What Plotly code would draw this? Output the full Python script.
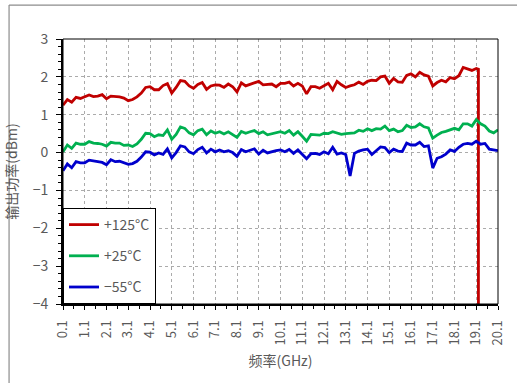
import numpy as np
import plotly.graph_objects as go

freq = [round(0.1 + 0.2 * i, 1) for i in range(101)]

red_vals = [1.25, 1.40, 1.33, 1.46, 1.43, 1.47, 1.52, 1.48, 1.49, 1.53,
            1.42, 1.49, 1.48, 1.47, 1.44, 1.37, 1.40, 1.47, 1.57, 1.72,
            1.74, 1.66, 1.66, 1.77, 1.82, 1.57, 1.72, 1.90, 1.88, 1.76,
            1.70, 1.80, 1.85, 1.67, 1.76, 1.79, 1.78, 1.72, 1.81, 1.74,
            1.60, 1.84, 1.76, 1.80, 1.82, 1.88, 1.79, 1.80, 1.81, 1.74,
            1.83, 1.83, 1.86, 1.76, 1.83, 1.76, 1.55, 1.74, 1.74, 1.70,
            1.76, 1.83, 1.66, 1.88, 1.79, 1.72, 1.76, 1.79, 1.86, 1.80,
            1.88, 1.91, 1.90, 2.00, 2.02, 1.83, 1.96, 1.87, 1.86, 2.04,
            2.08, 2.00, 2.12, 2.05, 2.02, 1.76, 1.85, 1.91, 1.87, 1.98,
            1.95, 2.03, 2.25, 2.22, 2.17, 2.22]
red_end_freq = [19.2, 19.2]
red_end_vals = [2.20, -4.6]

green_vals = [0.02, 0.20, 0.11, 0.25, 0.22, 0.22, 0.29, 0.25, 0.24, 0.22,
              0.17, 0.27, 0.25, 0.25, 0.19, 0.20, 0.16, 0.23, 0.35, 0.51,
              0.50, 0.42, 0.47, 0.45, 0.60, 0.35, 0.48, 0.68, 0.64, 0.52,
              0.47, 0.58, 0.62, 0.47, 0.57, 0.51, 0.55, 0.49, 0.55, 0.48,
              0.40, 0.56, 0.51, 0.55, 0.58, 0.50, 0.55, 0.47, 0.50, 0.52,
              0.55, 0.51, 0.58, 0.46, 0.55, 0.43, 0.30, 0.48, 0.47, 0.46,
              0.51, 0.50, 0.55, 0.52, 0.48, 0.50, 0.52, 0.52, 0.59, 0.56,
              0.63, 0.58, 0.63, 0.62, 0.70, 0.58, 0.62, 0.55, 0.58, 0.72,
              0.66, 0.68, 0.76, 0.68, 0.65, 0.38, 0.46, 0.53, 0.56, 0.59,
              0.64, 0.60, 0.76, 0.76, 0.70, 0.87, 0.76, 0.70, 0.57, 0.52,
              0.60]

blue_vals = [-0.48, -0.30, -0.40, -0.24, -0.27, -0.27, -0.20, -0.23, -0.24, -0.26,
             -0.32, -0.19, -0.24, -0.23, -0.28, -0.31, -0.29, -0.23, -0.12, 0.02,
             0.01, -0.06, -0.01, -0.05, 0.10, -0.14, 0.00, 0.18, 0.15, 0.02,
             -0.03, 0.08, 0.14, -0.01, 0.09, 0.02, 0.07, 0.02, 0.05, 0.00,
             -0.10, 0.08, 0.02, 0.05, 0.10, -0.04, 0.06, -0.01, 0.03, 0.05,
             0.07, 0.02, 0.08, -0.02, 0.07, -0.04, -0.16, -0.03, -0.02, -0.05,
             0.02, -0.03, 0.14, -0.04, -0.01, -0.05, -0.62, -0.02, 0.04, 0.07,
             0.09, -0.05, 0.04, 0.15, 0.13, 0.00, 0.09, 0.04, 0.03, 0.25,
             0.20, 0.20, 0.27, 0.16, 0.18, -0.41, -0.15, -0.11, -0.04, 0.07,
             0.03, 0.14, 0.22, 0.24, 0.22, 0.30, 0.22, 0.24, 0.09, 0.06,
             0.05]

x_tick_vals = [round(0.1 + i, 1) for i in range(21)]
x_tick_text = [f"{v:.1f}" for v in x_tick_vals]
y_tick_vals = [3, 2, 1, 0, -1, -2, -3, -4]
y_tick_text = ["3", "2", "1", "0", "\u22121", "\u22122", "\u22123", "\u22124"]

series_names = ["+125°C", "+25°C", "\u221255°C"]
series_colors = ["#C00000", "#00B050", "#0000CC"]

FONT = "Noto Sans CJK SC, Noto Sans, sans-serif"
TXT = "#595959"

fig = go.Figure()
red_x = freq[:len(red_vals)] + red_end_freq
red_y = red_vals + red_end_vals
fig.add_trace(go.Scatter(x=red_x, y=red_y, mode="lines", name=series_names[0],
                         line=dict(color=series_colors[0], width=2.8),
                         legendgroup="a"))
fig.add_trace(go.Scatter(x=freq, y=green_vals, mode="lines", name=series_names[1],
                         line=dict(color=series_colors[1], width=2.8),
                         legendgroup="b"))
fig.add_trace(go.Scatter(x=freq, y=blue_vals, mode="lines", name=series_names[2],
                         line=dict(color=series_colors[2], width=2.8),
                         legendgroup="c"))

fig.update_layout(
    width=517, height=383,
    margin=dict(l=63, r=19, t=39, b=79),
    paper_bgcolor="white", plot_bgcolor="white",
    font=dict(family=FONT, size=13, color=TXT),
    showlegend=True,
    legend=dict(x=0, y=0, xanchor="left", yanchor="bottom",
                bgcolor="white", bordercolor="black", borderwidth=1,
                font=dict(family=FONT, size=14, color=TXT),
                traceorder="grouped", tracegroupgap=10,
                itemwidth=30),
    shapes=[
        dict(type="line", xref="paper", yref="paper",
             x0=-0.124, x1=1.1, y0=1.128, y1=1.128,
             line=dict(color="#8c8c8c", width=1.2), layer="above"),
        dict(type="line", xref="paper", yref="paper",
             x0=-0.124, x1=-0.124, y0=-0.4, y1=1.128,
             line=dict(color="#8c8c8c", width=1.2), layer="above"),
        dict(type="rect", xref="paper", yref="paper",
             x0=0, x1=1, y0=0, y1=1,
             line=dict(color="black", width=1), layer="above"),
    ],
)

fig.update_xaxes(
    automargin=False,
    range=[0.1, 20.1], tickvals=x_tick_vals, ticktext=x_tick_text,
    tickangle=-90, ticks="outside", ticklen=4, tickwidth=1.2, tickcolor="black",
    showline=True, linecolor="black", linewidth=2,
    showgrid=True, gridcolor="#ababab", griddash="dot", gridwidth=1,
    zeroline=False,
    minor=dict(tick0=0.1, dtick=0.5, ticks="outside", ticklen=3, tickcolor="black", showgrid=False),
    tickfont=dict(family=FONT, size=13, color=TXT),
    ticklabelstandoff=5,
    title=dict(text="频率(GHz)", font=dict(family=FONT, size=14, color=TXT), standoff=12),
)
fig.update_yaxes(
    automargin=False,
    range=[-4, 3], tickvals=y_tick_vals, ticktext=y_tick_text,
    ticks="outside", ticklen=5, tickwidth=1.2, tickcolor="black",
    showline=True, linecolor="black", linewidth=2,
    showgrid=True, gridcolor="#ababab", griddash="dot", gridwidth=1,
    zeroline=False,
    minor=dict(tick0=0, dtick=0.2, ticks="outside", ticklen=3, tickcolor="black", showgrid=False),
    tickfont=dict(family=FONT, size=14, color=TXT),
    ticklabelstandoff=5,
    title=dict(text="输出功率(dBm)", font=dict(family=FONT, size=14, color=TXT), standoff=12),
)

fig.write_html("out.html", config={"displayModeBar": False},
               post_script="document.body.style.margin='0';document.body.style.overflow='hidden';")
